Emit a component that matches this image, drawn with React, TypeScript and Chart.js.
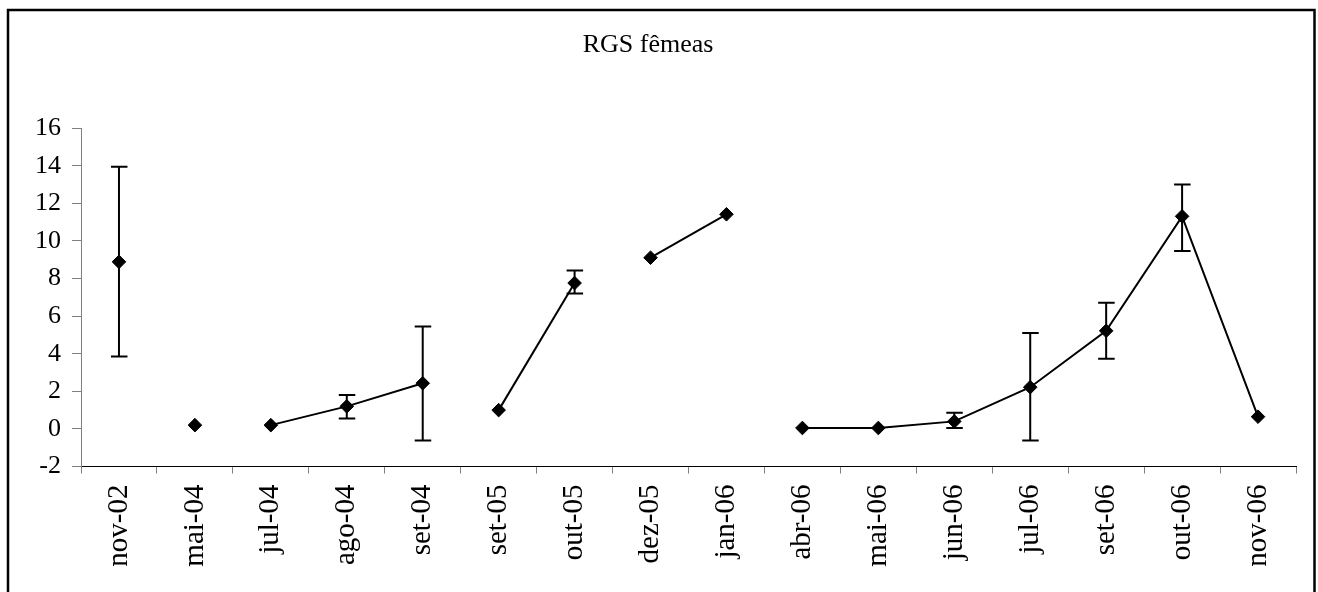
import React, { useEffect, useRef } from "react";
import { Chart, registerables } from "chart.js";

Chart.register(...registerables);

const categories = [
  "nov-02", "mai-04", "jul-04", "ago-04", "set-04", "set-05", "out-05", "dez-05",
  "jan-06", "abr-06", "mai-06", "jun-06", "jul-06", "set-06", "out-06", "nov-06",
];
const rgsValues = [8.89, 0.2, 0.2, 1.2, 2.43, 1.0, 7.76, 9.11, 11.42, 0.05, 0.05, 0.4, 2.22, 5.22, 11.31, 0.65];
const errLower: (number | null)[] = [3.85, null, null, 0.55, -0.62, null, 7.2, null, null, null, null, 0.05, -0.62, 3.73, 9.47, null];
const errUpper: (number | null)[] = [13.95, null, null, 1.8, 5.45, null, 8.43, null, null, null, null, 0.86, 5.1, 6.71, 13.0, null];
// segments that are not joined (index of first point of the segment)
const lineBreaks = [0, 1, 4, 6, 8];
const yTicks = { min: -2, max: 16, step: 2 };
const titleText = "RGS fêmeas";

const FONT = "'Liberation Serif', 'Times New Roman', serif";

const frameAndErrors = {
  id: "frameAndErrors",
  beforeDraw(chart: any) {
    const ctx = chart.ctx;
    ctx.save();
    ctx.fillStyle = "#fff";
    ctx.fillRect(0, 0, chart.width, chart.height);
    ctx.strokeStyle = "#000";
    ctx.lineWidth = 2.5;
    ctx.strokeRect(8, 10, 1306.5, 700);
    ctx.restore();
  },
  beforeDatasetsDraw(chart: any) {
    const ctx = chart.ctx;
    const xs = chart.scales.x;
    const ys = chart.scales.y;
    ctx.save();
    ctx.strokeStyle = "#000";
    ctx.lineWidth = 2;
    for (let i = 0; i < categories.length; i++) {
      const lo = errLower[i];
      const hi = errUpper[i];
      if (lo == null || hi == null) continue;
      const x = xs.getPixelForValue(i);
      const yl = ys.getPixelForValue(lo);
      const yh = ys.getPixelForValue(hi);
      ctx.beginPath();
      ctx.moveTo(x, yl);
      ctx.lineTo(x, yh);
      ctx.moveTo(x - 8, yl);
      ctx.lineTo(x + 8.5, yl);
      ctx.moveTo(x - 8, yh);
      ctx.lineTo(x + 8.5, yh);
      ctx.stroke();
    }
    ctx.restore();
  },
};

export default function App() {
  const ref = useRef<HTMLCanvasElement | null>(null);
  useEffect(() => {
    document.body.style.margin = "0";
    if (!ref.current) return;
    const chart = new Chart(ref.current, {
      type: "line",
      data: {
        labels: categories,
        datasets: [
          {
            data: rgsValues,
            borderColor: "#000",
            borderWidth: 2,
            pointStyle: "rectRot",
            pointRadius: 6.8,
            pointBackgroundColor: "#000",
            pointBorderColor: "#000",
            pointBorderWidth: 1,
            tension: 0,
            segment: {
              borderColor: (c: any) => (lineBreaks.includes(c.p0DataIndex) ? "rgba(0,0,0,0)" : "#000"),
            },
          } as any,
        ],
      },
      options: {
        responsive: false,
        animation: false,
        layout: { padding: { left: 0, right: 22, top: 30, bottom: 0 } },
        plugins: {
          legend: { display: false },
          tooltip: { enabled: false },
          title: {
            display: true,
            text: titleText,
            color: "#000",
            font: { family: FONT, size: 26, weight: "normal" },
            padding: { top: 0, bottom: 67 },
          },
        },
        scales: {
          x: {
            type: "category",
            offset: true,
            grid: { offset: true, drawOnChartArea: false, drawTicks: true, tickLength: 7, color: "#808080" },
            border: { display: true, color: "#000", width: 1 },
            ticks: {
              color: "#000",
              font: { family: FONT, size: 29 },
              maxRotation: 90,
              minRotation: 90,
              padding: 11,
              autoSkip: false,
            },
            afterFit: (s: any) => {
              s.height = 125.5;
            },
          },
          y: {
            min: yTicks.min,
            max: yTicks.max,
            grid: { drawOnChartArea: false, drawTicks: true, tickLength: 9, color: "#808080" },
            border: { display: true, color: "#808080", width: 1 },
            ticks: {
              stepSize: yTicks.step,
              color: "#000",
              font: { family: FONT, size: 26 },
              padding: 11,
            },
            afterFit: (s: any) => {
              s.width = 81;
            },
          },
        },
      },
      plugins: [frameAndErrors],
    });
    return () => chart.destroy();
  }, []);
  return (
    <div style={{ position: "absolute", left: 0, top: 0, width: 1318, height: 592 }}>
      <canvas ref={ref} width={1318} height={592} />
    </div>
  );
}
